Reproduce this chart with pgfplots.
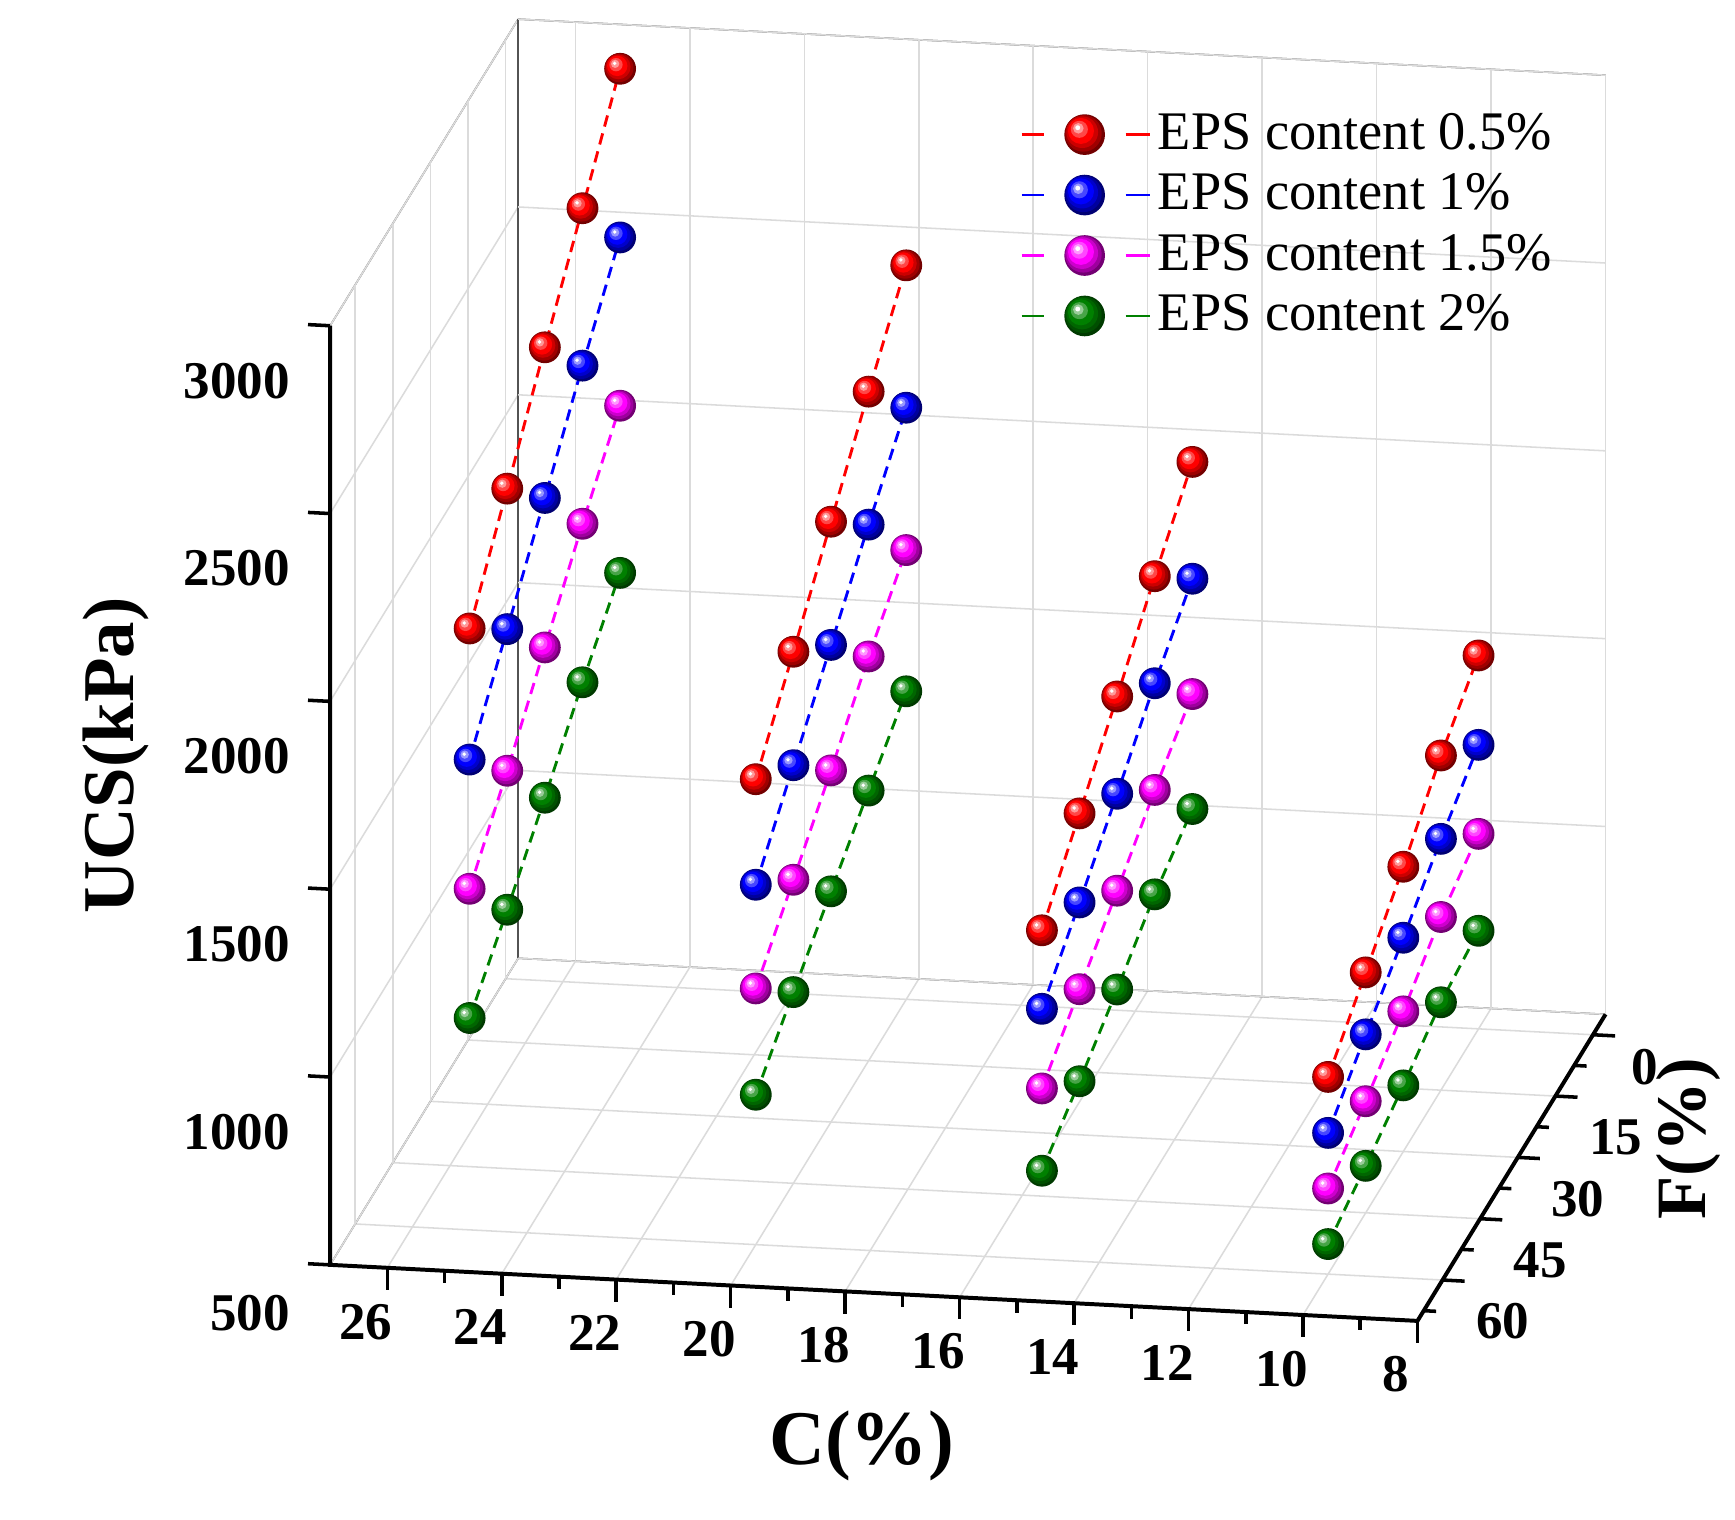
\documentclass[border=0pt]{standalone}
\usepackage{pgfplots}
\pgfplotsset{compat=1.18}
\usetikzlibrary{calc}
\usepackage{fontspec}
\setmainfont{Liberation Serif}
\definecolor{cRed}{RGB}{255,0,0}
\definecolor{cBlue}{RGB}{0,0,255}
\definecolor{cMag}{RGB}{255,0,255}
\definecolor{cGreen}{RGB}{0,128,0}
\newcommand\fakeball[1]{%
 \pgfsetfillcolor{#1!45!black}\pgfpathcircle{\pgfpointorigin}{\pgfplotmarksize}\pgfusepath{fill}%
 \pgfsetfillcolor{#1!62!black}\pgfpathcircle{\pgfpoint{-0.06\pgfplotmarksize}{0.06\pgfplotmarksize}}{0.9\pgfplotmarksize}\pgfusepath{fill}%
 \pgfsetfillcolor{#1!80!black}\pgfpathcircle{\pgfpoint{-0.12\pgfplotmarksize}{0.12\pgfplotmarksize}}{0.78\pgfplotmarksize}\pgfusepath{fill}%
 \pgfsetfillcolor{#1}\pgfpathcircle{\pgfpoint{-0.18\pgfplotmarksize}{0.18\pgfplotmarksize}}{0.64\pgfplotmarksize}\pgfusepath{fill}%
 \pgfsetfillcolor{#1!72!white}\pgfpathcircle{\pgfpoint{-0.26\pgfplotmarksize}{0.26\pgfplotmarksize}}{0.42\pgfplotmarksize}\pgfusepath{fill}%
 \pgfsetfillcolor{#1!40!white}\pgfpathcircle{\pgfpoint{-0.31\pgfplotmarksize}{0.31\pgfplotmarksize}}{0.26\pgfplotmarksize}\pgfusepath{fill}%
 \pgfsetfillcolor{white}\pgfpathcircle{\pgfpoint{-0.34\pgfplotmarksize}{0.34\pgfplotmarksize}}{0.12\pgfplotmarksize}\pgfusepath{fill}%
}
\pgfdeclareplotmark{ballR}{\fakeball{cRed}}
\pgfdeclareplotmark{ballB}{\fakeball{cBlue}}
\pgfdeclareplotmark{ballM}{\fakeball{cMag}}
\pgfdeclareplotmark{ballG}{\fakeball{cGreen}}
\begin{document}
\begin{tikzpicture}
\begin{axis}[
  x={(-12.95pt,0.6675pt)},
  y={(-0.5675pt,-0.925pt)},
  z={(0pt,0.085pt)},
  xmin=8, xmax=27, ymin=-5, ymax=70, zmin=500, zmax=3000,
  xtick={8,10,...,26}, ytick={0,15,...,60}, ztick={500,1000,...,3000},
  tick align=outside,
  major tick length=5pt,
  tick style={draw=none},
  grid=major,
  grid style={gray!28, line width=0.35pt},
  axis line style={gray!65!black, line width=0.35pt},
  /pgf/number format/assume math mode=true,
  /pgf/number format/set thousands separator={},
  ticklabel style={font=\bfseries\fontsize{12}{14}\selectfont},
  zticklabel style={xshift=-3pt},
  xlabel={C(\%)}, ylabel={F(\%)}, zlabel={UCS(kPa)},
  every axis x label/.style={at={(ticklabel cs:0.5)}, anchor=near ticklabel, xshift=7pt, font=\bfseries\fontsize{17.5}{19}\selectfont},
  every axis z label/.style={at={(ticklabel cs:0.635)}, rotate=90, anchor=south, font=\bfseries\fontsize{16.5}{18}\selectfont},
  every axis y label/.style={at={(ticklabel cs:0.1)}, anchor=north, xshift=-8pt, rotate=90, font=\bfseries\fontsize{16}{18}\selectfont},
  clip=false,
  unbounded coords=jump,
  legend style={draw=none, fill=none, at={(axis description cs:0.53,0.942)}, anchor=north west,
    font=\fontsize{12.3}{14}\selectfont, row sep=0pt, nodes={inner xsep=1.5pt}},
  legend cell align=left,
  legend image code/.code={\draw[#1,solid] (0pt,0pt) -- (5pt,0pt) (23.5pt,0pt) -- (29pt,0pt); \draw[#1,mark size=4.6pt] plot coordinates {(14.25pt,0pt)};},
  every axis plot/.append style={line width=0.65pt, dash pattern=on 2.6pt off 1.6pt, mark size=3.6pt, mark options={solid}},
]
% front axis lines and ticks
\draw[black, line width=0.9pt] (axis cs:27,70,3000) -- (axis cs:27,70,500) -- (axis cs:8,70,500) -- (axis cs:8,-5,500);
\pgfplotsinvokeforeach{8,10,...,26}{\draw[black, line width=0.8pt] (axis cs:#1,70,500) -- (axis cs:#1,70,441);}
\pgfplotsinvokeforeach{9,11,...,25}{\draw[black, line width=0.8pt] (axis cs:#1,70,500) -- (axis cs:#1,70,467);}
\pgfplotsinvokeforeach{0,15,...,60}{\draw[black, line width=0.8pt] (axis cs:8,#1,500) -- (axis cs:7.614,#1,500);}
\pgfplotsinvokeforeach{7.5,22.5,37.5,52.5,67.5}{\draw[black, line width=0.8pt] (axis cs:8,#1,500) -- (axis cs:7.784,#1,500);}
\pgfplotsinvokeforeach{500,1000,...,3000}{\draw[black, line width=0.8pt] (axis cs:27,70,#1) -- (axis cs:27.386,70,#1);}
\addplot3[cRed, mark=ballR] coordinates {
(25,60,2101) (25,45,2310) (25,30,2523) (25,15,2730) (25,0,2938) (25,0,nan)
(20,60,1739) (20,45,1915) (20,30,2098) (20,15,2281) (20,0,2454) (20,0,nan)
(15,60,1376) (15,45,1524) (15,30,1672) (15,15,1829) (15,0,1970) (15,0,nan)
(10,60,1025) (10,45,1140) (10,30,1258) (10,15,1391) (10,0,1494)
};
\addlegendentry{EPS content 0.5\%}
\addplot3[cBlue, mark=ballB] coordinates {
(25,60,1752) (25,45,1936) (25,30,2122) (25,15,2311) (25,0,2489) (25,0,nan)
(20,60,1458) (20,45,1613) (20,30,1770) (20,15,1927) (20,0,2075) (20,0,nan)
(15,60,1167) (15,45,1287) (15,30,1413) (15,15,1544) (15,0,1659) (15,0,nan)
(10,60,876) (10,45,975) (10,30,1069) (10,15,1169) (10,0,1256)
};
\addlegendentry{EPS content 1\%}
\addplot3[cMag, mark=ballM] coordinates {
(25,60,1408) (25,45,1559) (25,30,1724) (25,15,1890) (25,0,2041) (25,0,nan)
(20,60,1182) (20,45,1308) (20,30,1436) (20,15,1576) (20,0,1696) (20,0,nan)
(15,60,955) (15,45,1056) (15,30,1155) (15,15,1260) (15,0,1352) (15,0,nan)
(10,60,728) (10,45,797) (10,30,873) (10,15,961) (10,0,1019)
};
\addlegendentry{EPS content 1.5\%}
\addplot3[cGreen, mark=ballG] coordinates {
(25,60,1064) (25,45,1189) (25,30,1324) (25,15,1468) (25,0,1596) (25,0,nan)
(20,60,899) (20,45,1009) (20,30,1114) (20,15,1219) (20,0,1320) (20,0,nan)
(15,60,736) (15,45,811) (15,30,892) (15,15,982) (15,0,1046) (15,0,nan)
(10,60,580) (10,45,625) (10,30,676) (10,15,734) (10,0,761)
};
\addlegendentry{EPS content 2\%}
\end{axis}
\path ($(current axis.south west)+(-74.7pt,-45pt)$) rectangle ($(current axis.north east)+(26.75pt,2.5pt)$);
\end{tikzpicture}
\end{document}
